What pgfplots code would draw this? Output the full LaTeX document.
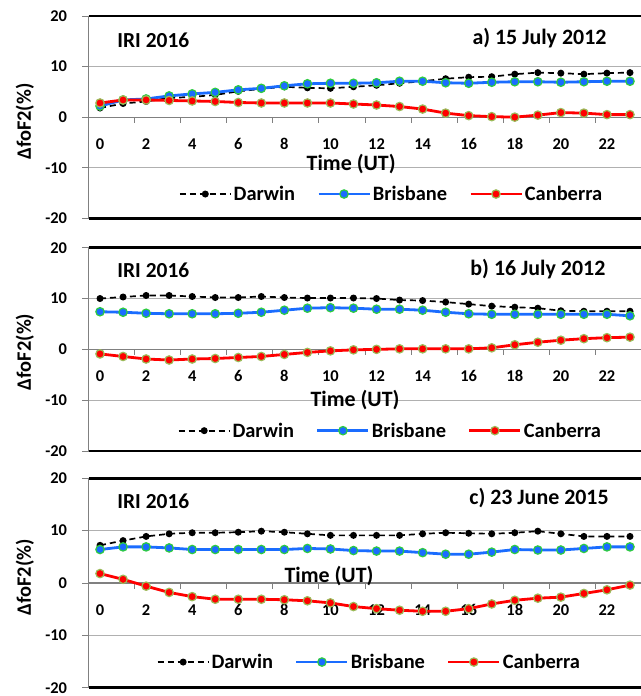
\documentclass[border=0pt]{standalone}
\usepackage{fontspec}
\setmainfont{Carlito}
\usepackage{pgfplots}
\usepackage{pgfplotstable}
\pgfplotsset{compat=1.18}

\definecolor{bblue}{HTML}{1A6CFF}
\definecolor{bgreen}{HTML}{2ECC40}
\definecolor{cedge}{HTML}{9BBB59}
\definecolor{gridg}{HTML}{B0B0B0}
\definecolor{axg}{HTML}{808080}

\pgfplotstableread{
h D B C
0 1.8 2.2 2.8
1 2.7 3.4 3.4
2 3.1 3.6 3.4
3 3.8 4.2 3.3
4 4.0 4.6 3.2
5 4.4 4.9 3.1
6 5.1 5.4 2.9
7 5.6 5.7 2.8
8 6.0 6.2 2.8
9 5.8 6.6 2.8
10 5.7 6.7 2.8
11 6.0 6.7 2.6
12 6.3 6.8 2.4
13 6.7 7.1 2.1
14 7.1 7.1 1.6
15 7.6 6.8 0.8
16 7.9 6.7 0.3
17 8.0 6.9 0.1
18 8.5 7.0 0.0
19 8.8 7.0 0.4
20 8.7 6.9 0.9
21 8.5 7.0 0.8
22 8.7 7.1 0.5
23 8.8 7.1 0.5
}\tabA

\pgfplotstableread{
h D B C
0 10.0 7.4 -0.9
1 10.3 7.3 -1.4
2 10.6 7.1 -1.9
3 10.6 7.0 -2.1
4 10.4 7.0 -1.9
5 10.2 7.0 -1.8
6 10.2 7.1 -1.6
7 10.4 7.3 -1.4
8 10.2 7.7 -1.0
9 10.1 8.1 -0.6
10 10.1 8.2 -0.3
11 10.1 8.1 -0.1
12 10.0 7.9 0.0
13 9.7 7.9 0.1
14 9.6 7.7 0.1
15 9.3 7.3 0.1
16 8.9 7.0 0.1
17 8.5 6.9 0.3
18 8.3 6.9 0.9
19 8.1 6.9 1.4
20 7.6 6.9 1.8
21 7.5 6.9 2.1
22 7.5 6.9 2.3
23 7.5 6.6 2.4
}\tabB

\pgfplotstableread{
h D B C
0 7.2 6.4 1.8
1 8.1 6.9 0.7
2 8.9 6.9 -0.6
3 9.4 6.7 -1.8
4 9.6 6.4 -2.6
5 9.6 6.4 -3.1
6 9.7 6.4 -3.1
7 9.9 6.4 -3.1
8 9.7 6.4 -3.2
9 9.4 6.6 -3.4
10 9.1 6.5 -3.8
11 9.1 6.2 -4.5
12 9.1 6.1 -4.9
13 9.1 6.1 -5.2
14 9.4 5.8 -5.4
15 9.6 5.5 -5.4
16 9.5 5.5 -4.9
17 9.4 5.9 -4.0
18 9.6 6.4 -3.3
19 9.9 6.3 -2.9
20 9.4 6.3 -2.7
21 8.9 6.6 -2.0
22 8.9 6.9 -1.3
23 8.9 6.9 -0.4
}\tabC

\pgfplotsset{
  panel/.style={
    scale only axis,
    width=553bp,
    anchor=south west,
    xmin=-0.5, xmax=23.5,
    ymin=-20, ymax=20,
    clip=false,
    axis line style={draw=none},
    ytick={-20,-10,0,10,20},
    yticklabels={-20,-10,0,10,20},
    ymajorgrids,
    grid style={gridg, line width=1bp},
    y tick style={axg, line width=1bp},
    tick align=outside,
    major tick length=6bp,
    xtick={0,2,...,22},
    xticklabels={0,2,4,6,8,10,12,14,16,18,20,22},
    x tick style={draw=none},
    tick label style={font=\fontsize{16.5}{18}\selectfont\bfseries},
    yticklabel style={xshift=-12bp},
    ylabel={ΔfoF2(\%)},
    ylabel style={font=\fontsize{20.5}{22}\selectfont\bfseries, anchor=center},
    xlabel={Time (UT)},
    xlabel style={font=\fontsize{22}{24}\selectfont\bfseries, anchor=center},
    legend columns=3,
    legend style={draw=none, fill=none, anchor=center,
      font=\fontsize{20.5}{22}\selectfont\bfseries,
      /tikz/every even column/.append style={column sep=20bp}},
    legend image code/.code={%
      \draw[mark repeat=2,mark phase=2,#1] plot coordinates {(0bp,0bp) (25.5bp,0bp) (51bp,0bp)};},
  },
  darw/.style={black, line width=1.7bp, dash pattern=on 6bp off 4bp, mark=*, mark size=2.6bp, mark options={solid, fill=black, draw=black}},
  bris/.style={bblue, line width=2.8bp, mark=*, mark size=4.2bp, mark options={solid, fill=bblue, draw=bgreen, line width=1.2bp}},
  canb/.style={red, line width=2.8bp, mark=*, mark size=4.2bp, mark options={solid, fill=red, draw=cedge, line width=1.2bp}},
}

\newcommand{\frameit}{%
  \draw[axg, line width=1.5bp] (rel axis cs:0,0) -- (rel axis cs:0,1);
  \draw[black, line width=2.6bp] (rel axis cs:0,1) -- (rel axis cs:1,1);
  \draw[black, line width=2.6bp] (rel axis cs:0,0) -- (rel axis cs:1,0);
  \draw[axg, line width=1.2bp] (axis cs:-0.5,0) -- (axis cs:23.5,0);
  \pgfplotsinvokeforeach{1.5,3.5,5.5,7.5,9.5,11.5,13.5,15.5,17.5,19.5,21.5}{\draw[axg, line width=1bp] (axis cs:##1,0) -- ++(0pt,-6bp);}
}

\begin{document}
\begin{tikzpicture}
% Panel a
\begin{axis}[panel,
  at={(88.5bp,-218.3bp)}, height=202.3bp,
  xticklabel style={anchor=center, yshift=80.4bp},
  ylabel style={at={(axis description cs:-0.115,0.478)}},
  xlabel style={at={(axis description cs:0.475,0.27)}},
  legend style={at={(0.548,0.12)}},
]
\frameit
\addplot[darw] table[x=h,y=D] {\tabA};
\addplot[bris] table[x=h,y=B] {\tabA};
\addplot[canb] table[x=h,y=C] {\tabA};
\legend{Darwin,Brisbane,Canberra}
\node[anchor=west, font=\fontsize{21.5}{23}\selectfont\bfseries] at (axis description cs:0.046,0.88) {IRI 2016};
\node[anchor=east, font=\fontsize{22}{24}\selectfont\bfseries] at (axis description cs:0.943,0.89) {a) 15 July 2012};
\end{axis}
% Panel b
\begin{axis}[panel,
  at={(88.5bp,-451bp)}, height=203.3bp,
  xticklabel style={anchor=center, yshift=80.7bp},
  ylabel style={at={(axis description cs:-0.115,0.4875)}},
  xlabel style={at={(axis description cs:0.482,0.25)}},
  legend style={at={(0.546,0.10)}},
]
\frameit
\addplot[darw] table[x=h,y=D] {\tabB};
\addplot[bris] table[x=h,y=B] {\tabB};
\addplot[canb] table[x=h,y=C] {\tabB};
\legend{Darwin,Brisbane,Canberra}
\node[anchor=west, font=\fontsize{21.5}{23}\selectfont\bfseries] at (axis description cs:0.046,0.8875) {IRI 2016};
\node[anchor=east, font=\fontsize{22}{24}\selectfont\bfseries] at (axis description cs:0.941,0.895) {b) 16 July 2012};
\end{axis}
% Panel c
\begin{axis}[panel,
  at={(88.5bp,-687.7bp)}, height=209.4bp,
  xticklabel style={anchor=center, yshift=83.5bp},
  ylabel style={at={(axis description cs:-0.115,0.5275)}},
  xlabel style={at={(axis description cs:0.435,0.5325)}},
  legend style={at={(0.508,0.1225)}},
]
\frameit
\addplot[darw] table[x=h,y=D] {\tabC};
\addplot[bris] table[x=h,y=B] {\tabC};
\addplot[canb] table[x=h,y=C] {\tabC};
\legend{Darwin,Brisbane,Canberra}
\node[anchor=west, font=\fontsize{21.5}{23}\selectfont\bfseries] at (axis description cs:0.046,0.89) {IRI 2016};
\node[anchor=east, font=\fontsize{22}{24}\selectfont\bfseries] at (axis description cs:0.947,0.905) {c) 23 June 2015};
\end{axis}
\pgfresetboundingbox
\path[use as bounding box] (0bp,0bp) rectangle (641bp,-696bp);
\end{tikzpicture}
\end{document}
